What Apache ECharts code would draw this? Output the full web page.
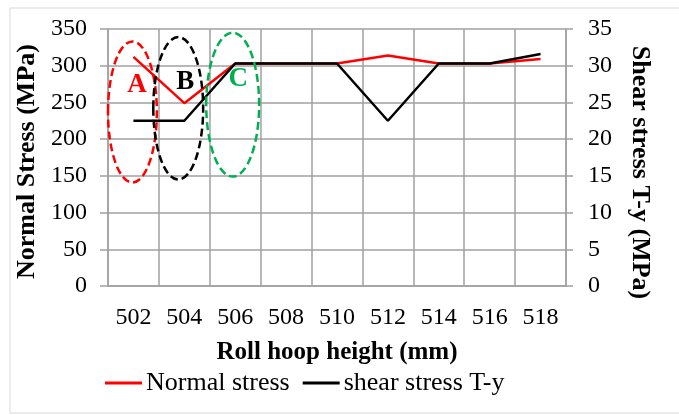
<!DOCTYPE html>
<html>
<head>
<meta charset="utf-8">
<script src="https://cdn.jsdelivr.net/npm/echarts@6/dist/echarts.min.js"></script>
<style>html,body{margin:0;padding:0;background:#fff}#c{width:679px;height:415px}</style>
</head>
<body>
<div id="c"></div>
<script>
const categories = ['502','504','506','508','510','512','514','516','518'];
const normalStress = [312, 249, 303, 303, 303, 314, 303, 303, 309];
const shearStress = [22.5, 22.5, 30.3, 30.3, 30.3, 22.5, 30.3, 30.3, 31.6];
const leftTicks = [0, 350, 50];
const rightTicks = [0, 35, 5];
// annotation ellipses: [category offset, center value (left axis), half-width in categories, half-height in value, colour, label]
const ellipses = [
  [-0.02, 237, 0.48, 96, '#ff0000', 'A'],
  [0.88, 242, 0.49, 97, '#000000', 'B'],
  [1.95, 247, 0.52, 98, '#00b050', 'C']
];
const labelPos = [[0.07, 274], [1.02, 278], [2.06, 282]];

const FONT = 'Liberation Serif';
const chart = echarts.init(document.getElementById('c'), null, {renderer: 'canvas'});
const option = {
  animation: false,
  textStyle: {fontFamily: FONT},
  grid: {left: 108, right: 113, top: 29, bottom: 129, containLabel: false},
  legend: {
    left: 100, top: 365, itemWidth: 37, itemHeight: 3, itemGap: 13, icon: 'rect',
    textStyle: {fontFamily: FONT, fontSize: 26, color: '#000', padding: [0,0,0,-1]},
    data: ['Normal stress', 'shear stress T-y']
  },
  xAxis: {
    type: 'category', data: categories, boundaryGap: true,
    name: 'Roll hoop height (mm)', nameLocation: 'middle', nameGap: 54,
    nameTextStyle: {fontFamily: FONT, fontSize: 25, fontWeight: 'bold', color: '#000'},
    axisLine: {lineStyle: {color: '#a0a0a0', width: 1.5}},
    axisTick: {show: false},
    axisLabel: {fontFamily: FONT, fontSize: 24, color: '#000', margin: 20, interval: 0},
    splitLine: {show: true, interval: 0, lineStyle: {color: '#a0a0a0', width: 1.5}}
  },
  yAxis: [
    {
      type: 'value', min: leftTicks[0], max: leftTicks[1], interval: leftTicks[2],
      name: 'Normal Stress (MPa)', nameLocation: 'middle', nameGap: 67, nameRotate: 90,
      nameTextStyle: {fontFamily: FONT, fontSize: 26, fontWeight: 'bold', color: '#000', padding: [0,8,0,0]},
      axisLine: {show: true, lineStyle: {color: '#a0a0a0', width: 1.5}},
      axisTick: {show: true, length: 8, lineStyle: {color: '#a0a0a0', width: 1.5}},
      axisLabel: {fontFamily: FONT, fontSize: 24, color: '#000', margin: 21},
      splitLine: {show: true, lineStyle: {color: '#a0a0a0', width: 1.5}}
    },
    {
      type: 'value', min: rightTicks[0], max: rightTicks[1], interval: rightTicks[2], position: 'right',
      name: 'Shear stress T-y (MPa)', nameLocation: 'middle', nameGap: 61, nameRotate: -90,
      nameTextStyle: {fontFamily: FONT, fontSize: 26, fontWeight: 'bold', color: '#000', padding: [0,0,0,30]},
      axisLine: {show: true, lineStyle: {color: '#a0a0a0', width: 1.5}},
      axisTick: {show: true, length: 7, lineStyle: {color: '#a0a0a0', width: 1.5}},
      axisLabel: {fontFamily: FONT, fontSize: 24, color: '#000', margin: 22},
      splitLine: {show: false}
    }
  ],
  series: [
    {name: 'Normal stress', type: 'line', yAxisIndex: 0, data: normalStress, symbol: 'none',
     lineStyle: {color: '#ff0000', width: 2.5}, itemStyle: {color: '#ff0000'}},
    {name: 'shear stress T-y', type: 'line', yAxisIndex: 1, data: shearStress, symbol: 'none',
     lineStyle: {color: '#000000', width: 2.5}, itemStyle: {color: '#000000'}}
  ]
};
chart.setOption(option);

function drawAnnotations() {
  const p0 = chart.convertToPixel({xAxisIndex: 0}, categories[0]);
  const p1 = chart.convertToPixel({xAxisIndex: 0}, categories[1]);
  const step = p1 - p0;
  const yPix = v => chart.convertToPixel({yAxisIndex: 0}, v);
  const els = [{
    type: 'rect', shape: {x: 10, y: 8, width: 700, height: 405},
    style: {fill: 'none', stroke: '#d9d9d9', lineWidth: 1}, z: -1, silent: true
  }];
  ellipses.forEach((e, i) => {
    const cy = yPix(e[1]);
    const ry = yPix(e[1] - e[3]) - cy;
    els.push({
      type: 'ellipse',
      shape: {cx: p0 + step * e[0], cy: cy, rx: step * e[2], ry: ry},
      style: {fill: 'none', stroke: e[4], lineWidth: 2.5, lineDash: [8, 4]}, z: 10, silent: true
    });
    const lp = labelPos[i];
    els.push({
      type: 'text', x: p0 + step * lp[0], y: yPix(lp[1]),
      style: {text: e[5], fill: e[4], font: 'bold 27px "Liberation Serif"', align: 'center', verticalAlign: 'middle'},
      z: 11, silent: true
    });
  });
  chart.setOption({graphic: els});
}
drawAnnotations();
</script>
</body>
</html>
